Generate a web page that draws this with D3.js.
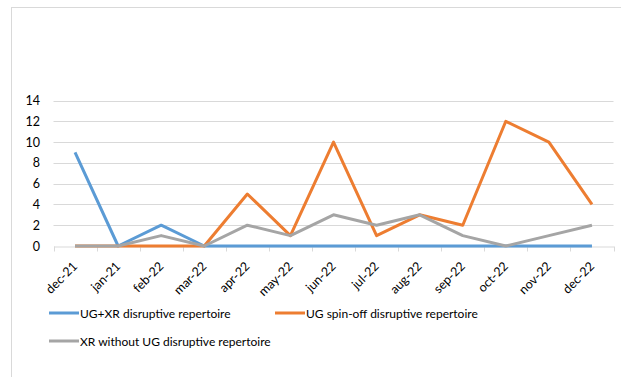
<!DOCTYPE html>
<html>
<head>
<meta charset="utf-8">
<script src="https://cdn.jsdelivr.net/npm/d3@7"></script>
<style>
  body { margin: 0; background: #fff; }
  text { font-family: Lato, "Open Sans", sans-serif; fill: #000; }
</style>
</head>
<body>
<div id="container"></div>
<script>
const w = 621,
  h = 377;

const months = ['dec-21', 'jan-21', 'feb-22', 'mar-22', 'apr-22', 'may-22', 'jun-22',
  'jul-22', 'aug-22', 'sep-22', 'oct-22', 'nov-22', 'dec-22'];
const seriesNames = ['UG+XR disruptive repertoire', 'UG spin-off disruptive repertoire',
  'XR without UG disruptive repertoire'];
const ugXr = [9, 0, 2, 0, 0, 0, 0, 0, 0, 0, 0, 0, 0];
const ugSpinOff = [0, 0, 0, 0, 5, 1, 10, 1, 3, 2, 12, 10, 4];
const xrWithoutUg = [0, 0, 1, 0, 2, 1, 3, 2, 3, 1, 0, 1, 2];
const yTicks = [0, 2, 4, 6, 8, 10, 12, 14];
const colors = ['#5b9bd5', '#ed7d31', '#a5a5a5'];

const series = [ugXr, ugSpinOff, xrWithoutUg];

const svg = d3.select('#container').append('svg')
  .attr('width', w).attr('height', h);

// chart border (runs off the right/bottom of the picture)
svg.append('rect')
  .attr('x', 11.5).attr('y', 7.5)
  .attr('width', 700).attr('height', 500)
  .attr('fill', '#fff').attr('stroke', '#d9d9d9');

const plotLeft = 53.5, plotRight = 613.5, plotTop = 100.5, plotBottom = 246;

const xScale = d3.scaleBand().domain(months).range([plotLeft, plotRight]);
const yScale = d3.scaleLinear().domain([0, 14]).range([plotBottom, plotTop]);

// gridlines
svg.append('g')
  .selectAll('line')
  .data(yTicks.slice(1))
  .enter()
  .append('line')
  .attr('x1', plotLeft).attr('x2', plotRight)
  .attr('y1', d => Math.round(yScale(d)) + 0.5)
  .attr('y2', d => Math.round(yScale(d)) + 0.5)
  .attr('stroke', '#d9d9d9').attr('stroke-width', 1);

// y labels
svg.append('g')
  .selectAll('text')
  .data(yTicks)
  .enter()
  .append('text')
  .attr('x', 40)
  .attr('y', d => yScale(d) + 4.5)
  .attr('text-anchor', 'end')
  .style('font-size', '12.5px')
  .text(d => d);

// x axis
const xAxis = d3.axisBottom(xScale).tickSize(0).tickSizeOuter(0).tickFormat('');
const xg = svg.append('g')
  .attr('transform', 'translate(0,' + (Math.round(plotBottom) + 0.5) + ')')
  .call(xAxis);
xg.select('.domain').attr('stroke', '#d9d9d9');
xg.selectAll('.tick').remove();

const bounds = d3.range(months.length + 1).map(i => plotLeft + i * xScale.bandwidth());
xg.selectAll('line.bound')
  .data(bounds)
  .enter()
  .append('line')
  .attr('class', 'bound')
  .attr('x1', d => Math.round(d) + 0.5).attr('x2', d => Math.round(d) + 0.5)
  .attr('y1', 0).attr('y2', 5)
  .attr('stroke', '#d9d9d9');

svg.append('g')
  .selectAll('text')
  .data(months)
  .enter()
  .append('text')
  .attr('transform', d => 'translate(' + (xScale(d) + xScale.bandwidth() / 2) + ',' + (plotBottom + 18) + ') rotate(-45)')
  .attr('text-anchor', 'end')
  .attr('dy', '0.35em')
  .style('font-size', '12.5px')
  .text(d => d);

// lines
const line = d3.line()
  .x((d, i) => xScale(months[i]) + xScale.bandwidth() / 2)
  .y(d => yScale(d));

svg.append('g')
  .selectAll('path')
  .data(series)
  .enter()
  .append('path')
  .attr('d', d => line(d))
  .attr('fill', 'none')
  .attr('stroke', (d, i) => colors[i])
  .attr('stroke-width', 3)
  .attr('stroke-linejoin', 'round');

// legend
const legendPos = [[49, 313], [275, 313], [49, 341]];
const legend = svg.append('g')
  .selectAll('g')
  .data(seriesNames)
  .enter()
  .append('g')
  .attr('transform', (d, i) => 'translate(' + legendPos[i][0] + ',' + legendPos[i][1] + ')');

legend.append('line')
  .attr('x1', 0).attr('x2', 30)
  .attr('stroke', (d, i) => colors[i])
  .attr('stroke-width', 3);

legend.append('text')
  .attr('x', 31)
  .attr('y', 4.5)
  .style('font-size', '12px')
  .text(d => d);
</script>
</body>
</html>
